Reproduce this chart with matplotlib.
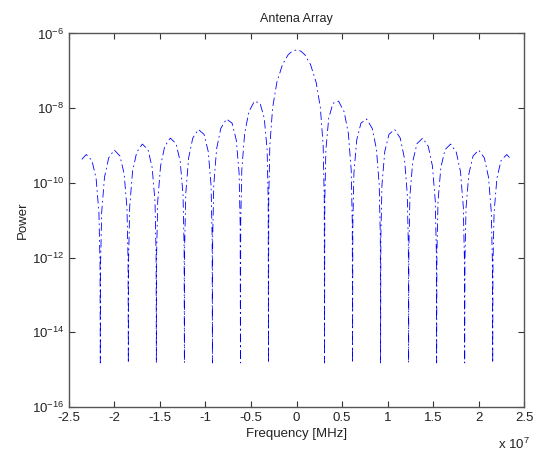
import numpy as np
import matplotlib
matplotlib.use('Agg')
import matplotlib.pyplot as plt

plt.rcParams['font.family'] = ['Liberation Sans', 'DejaVu Sans']
plt.rcParams['mathtext.default'] = 'regular'

# positive half of the spectrum (freq in units of 1e6, log10 of power)
freq_half = [0.0, 0.46, 0.92, 1.54, 2.16, 2.62, 2.93, 3.05, 3.08,
             3.11, 3.23, 3.54, 4.00, 4.62, 5.24, 5.70, 6.01, 6.13, 6.16,
             6.19, 6.31, 6.62, 7.08, 7.70, 8.32, 8.78, 9.09, 9.21, 9.24,
             9.27, 9.39, 9.70, 10.16, 10.78, 11.40, 11.86, 12.17, 12.29, 12.32,
             12.35, 12.47, 12.78, 13.24, 13.86, 14.48, 14.94, 15.25, 15.37, 15.40,
             15.43, 15.55, 15.86, 16.32, 16.94, 17.56, 18.02, 18.33, 18.45, 18.48,
             18.51, 18.63, 18.94, 19.40, 20.02, 20.64, 21.10, 21.41, 21.53, 21.56,
             21.59, 21.71, 22.02, 22.48, 23.10, 23.59]
logp_half = [-6.44, -6.47, -6.57, -6.83, -7.31, -7.98, -9.00, -10.43, -14.82,
             -10.47, -9.11, -8.27, -7.87, -7.81, -8.10, -8.68, -9.65, -11.06, -14.82,
             -11.11, -9.73, -8.85, -8.40, -8.29, -8.54, -9.09, -10.05, -11.45, -14.82,
             -11.45, -10.06, -9.16, -8.70, -8.57, -8.80, -9.34, -10.29, -11.69, -14.82,
             -11.71, -10.32, -9.42, -8.95, -8.80, -9.02, -9.55, -10.49, -11.90, -14.82,
             -11.89, -10.50, -9.59, -9.11, -8.96, -9.18, -9.70, -10.64, -12.04, -14.82,
             -12.06, -10.67, -9.76, -9.28, -9.12, -9.33, -9.85, -10.79, -12.19, -14.82,
             -12.19, -10.80, -9.88, -9.40, -9.24, -9.37]

xticks = [-2.5e7, -2e7, -1.5e7, -1e7, -0.5e7, 0, 0.5e7, 1e7, 1.5e7, 2e7, 2.5e7]
xticklabels = ['-2.5', '-2', '-1.5', '-1', '-0.5', '0', '0.5', '1', '1.5', '2', '2.5']
yticks = [1e-16, 1e-14, 1e-12, 1e-10, 1e-8, 1e-6]

fh = np.array(freq_half) * 1e6
lp = np.array(logp_half)
freq = np.concatenate([-fh[:0:-1], fh])
power = 10 ** np.concatenate([lp[:0:-1], lp])

fig = plt.figure(figsize=(5.42, 4.57), dpi=100)
ax = fig.add_axes([0.1273, 0.1094, 0.8395, 0.8173])

ax.plot(freq, power, color='blue', linestyle='-.', linewidth=0.6, dashes=(10, 4, 2, 4))
ax.set_yscale('log')
ax.set_xlim(-2.5e7, 2.5e7)
ax.set_ylim(1e-16, 1e-6)
ax.set_xticks(xticks)
ax.set_xticklabels(xticklabels)
ax.set_yticks(yticks)
ax.minorticks_off()

ax.tick_params(direction='in', top=True, right=True, length=4, width=0.8,
               labelsize=9.5, colors='#333333', labelcolor='#222222')
for s in ax.spines.values():
    s.set_color('#555555')
    s.set_linewidth(1.0)

ax.set_title('Antena Array', fontsize=9, color='#222222', pad=8)
ax.set_xlabel('Frequency [MHz]', fontsize=9.5, color='#222222', labelpad=3)
ax.set_ylabel('Power', fontsize=9.5, color='#222222', labelpad=2)
fig.text(0.918, 0.018, r'x 10$^{7}$', fontsize=9.5, color='#222222')

fig.savefig('out.png', dpi=100)
